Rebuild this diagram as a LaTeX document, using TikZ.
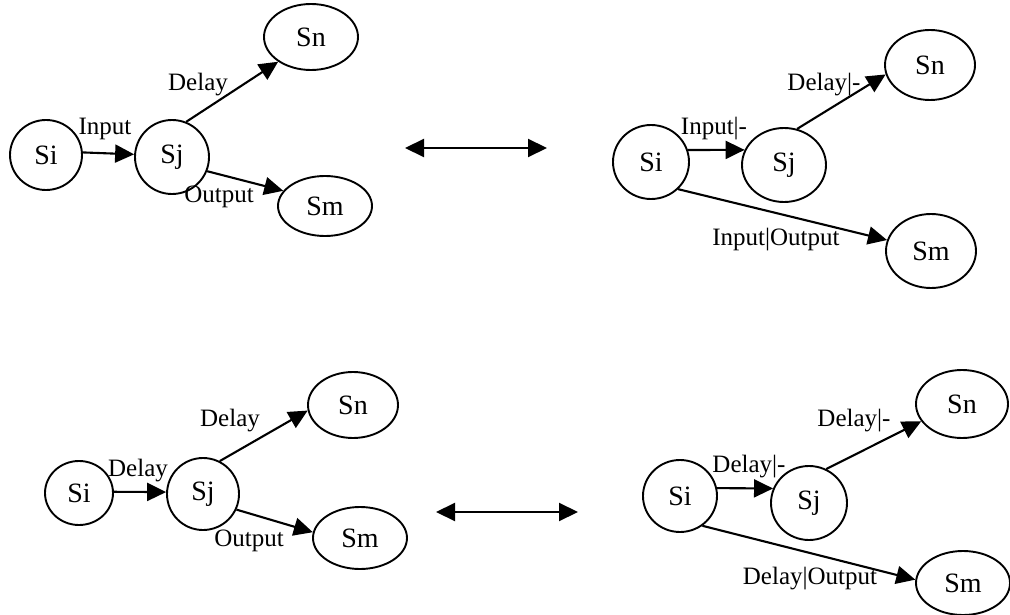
\documentclass[tikz,border=0pt]{standalone}
\usepackage{fontspec}
\setmainfont{Liberation Serif}
\usetikzlibrary{arrows.meta,shapes.geometric}

\tikzset{
  state/.style={ellipse, draw, line width=1.9pt, inner sep=0pt,
                font=\fontsize{28}{32}\selectfont},
  lbl/.style={inner sep=0pt, font=\fontsize{25}{29}\selectfont},
  trans/.style={line width=2.1pt, -{Triangle[length=19pt,width=18pt]}},
  equiv/.style={line width=2.1pt, {Triangle[length=19pt,width=18pt]}-{Triangle[length=19pt,width=18pt]}}
}

\begin{document}
\begin{tikzpicture}[x=1pt, y=-1pt]
\useasboundingbox (0,0) rectangle (1010,615);

% ---------- upper left: Si --Input--> Sj, then Delay / Output ----------
\node[state, minimum width=72pt, minimum height=70pt] (a1) at (46,155) {Si};
\node[state, minimum width=74pt, minimum height=74pt] (a2) at (172,157) {Sj};
\node[state, minimum width=94pt, minimum height=66pt] (a3) at (311,37) {Sn};
\node[state, minimum width=94pt, minimum height=60pt] (a4) at (325,206) {Sm};
\draw[trans] (a1.4) -- (a2.176);
\draw[trans] (a2.68) -- (a3.217);
\draw[trans] (a2.338) -- (a4.160);
\node[lbl] (a5) at (105,129) {Input};
\node[lbl] (a6) at (198,85) {Delay};
\node[lbl] (a7) at (219,197) {Output};

% ---------- upper right ----------
\node[state, minimum width=76pt, minimum height=74pt] (b1) at (651,162) {Si};
\node[state, minimum width=84pt, minimum height=74pt] (b2) at (784,165) {Sj};
\node[state, minimum width=90pt, minimum height=70pt] (b3) at (930,65) {Sn};
\node[state, minimum width=90pt, minimum height=74pt] (b4) at (931,251) {Sm};
\draw[trans] (b1.18) -- (b2.159);
\draw[trans] (b2.70) -- (b3.192);
\draw[trans] (b1.315) -- (b4.166);
\node[lbl] (b5) at (714,129) {Input|-};
\node[lbl] (b6) at (824,85) {Delay|-};
\node[lbl] (b7) at (776,240) {Input|Output};

% ---------- upper equivalence arrow ----------
\coordinate (e1) at (405,148);
\coordinate (e2) at (547,148);
\draw[equiv] (e1) -- (e2);

% ---------- lower left ----------
\node[state, minimum width=68pt, minimum height=64pt] (c1) at (79,493) {Si};
\node[state, minimum width=72pt, minimum height=72pt] (c2) at (203,494) {Sj};
\node[state, minimum width=90pt, minimum height=66pt] (c3) at (353,405) {Sn};
\node[state, minimum width=94pt, minimum height=62pt] (c4) at (360,538) {Sm};
\draw[trans] (c1.2) -- (c2.177);
\draw[trans] (c2.63) -- (c3.187);
\draw[trans] (c2.335) -- (c4.173);
\node[lbl] (c5) at (138,471) {Delay};
\node[lbl] (c6) at (230,421) {Delay};
\node[lbl] (c7) at (249,541) {Output};

% ---------- lower equivalence arrow ----------
\coordinate (f1) at (436,512);
\coordinate (f2) at (578,512);
\draw[equiv] (f1) -- (f2);

% ---------- lower right ----------
\node[state, minimum width=74pt, minimum height=72pt] (d1) at (680,496) {Si};
\node[state, minimum width=76pt, minimum height=74pt] (d2) at (809,503) {Sj};
\node[state, minimum width=92pt, minimum height=68pt] (d3) at (962,404) {Sn};
\node[state, minimum width=94pt, minimum height=64pt] (d4) at (963,583) {Sm};
\draw[trans] (d1.12) -- (d2.158);
\draw[trans] (d2.63) -- (d3.203);
\draw[trans] (d1.307) -- (d4.176);
\node[lbl] (d5) at (749,467) {Delay|-};
\node[lbl] (d6) at (854,421) {Delay|-};
\node[lbl] (d7) at (810,579) {Delay|Output};
\end{tikzpicture}
\end{document}
